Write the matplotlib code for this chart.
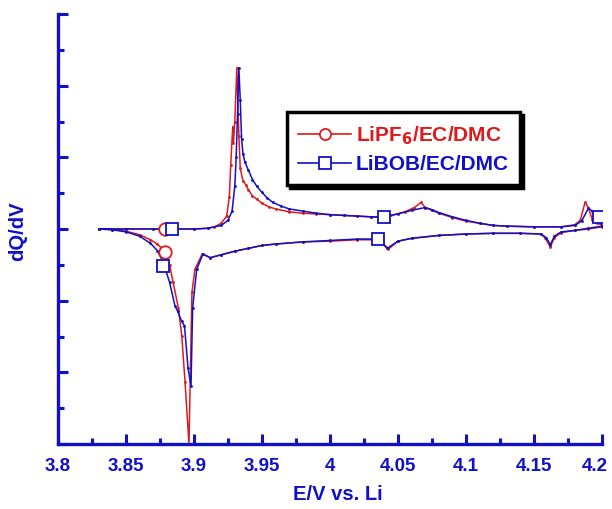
import matplotlib
matplotlib.use("Agg")
import matplotlib.pyplot as plt
from matplotlib.transforms import ScaledTranslation

# LiPF6/EC/DMC : charge branch then discharge branch (E in V, dQ/dV a.u.)
e_pf6 = [3.830, 3.850, 3.870, 3.880, 3.900, 3.910, 3.915, 3.920, 3.924, 3.926, 3.927, 3.9285,
         3.929, 3.930, 3.9315, 3.933, 3.934, 3.936, 3.938, 3.940, 3.943, 3.946, 3.950, 3.955,
         3.960, 3.970, 3.980, 3.990, 4.000, 4.010, 4.020, 4.030, 4.038, 4.045, 4.055, 4.062,
         4.067, 4.070, 4.075, 4.080, 4.090, 4.100, 4.110, 4.120, 4.130, 4.150, 4.170, 4.180,
         4.184, 4.1875, 4.190, 4.193, 4.196, 4.200,
         4.200, 4.190, 4.180, 4.170, 4.165, 4.162, 4.158, 4.155, 4.140, 4.120, 4.100, 4.080,
         4.060, 4.050, 4.043, 4.038, 4.035, 4.020, 4.000, 3.980, 3.960, 3.950, 3.940, 3.930,
         3.920, 3.912, 3.906, 3.9007, 3.8985, 3.8963, 3.8934, 3.891, 3.8885, 3.8846, 3.882,
         3.880, 3.877, 3.873, 3.868, 3.860, 3.850, 3.840, 3.830]
q_pf6 = [0.00, 0.00, 0.00, 0.00, 0.00, 0.01, 0.03, 0.08, 0.18, 0.45, 0.90, 1.43,
         1.20, 1.50, 2.25, 1.30, 0.85, 0.67, 0.62, 0.55, 0.46, 0.42, 0.36, 0.31,
         0.28, 0.24, 0.22, 0.21, 0.20, 0.19, 0.18, 0.17, 0.16, 0.19, 0.24, 0.30,
         0.37, 0.30, 0.26, 0.22, 0.16, 0.11, 0.08, 0.05, 0.04, 0.03, 0.03, 0.06,
         0.12, 0.37, 0.30, 0.12, 0.08, 0.06,
         0.03, 0.00, -0.02, -0.05, -0.12, -0.25, -0.12, -0.07, -0.06, -0.06, -0.07, -0.09,
         -0.13, -0.17, -0.28, -0.18, -0.15, -0.15, -0.17, -0.18, -0.21, -0.23, -0.27, -0.31,
         -0.36, -0.40, -0.35, -0.56, -0.88, -3.00, -2.13, -1.49, -1.10, -0.74, -0.50,
         -0.36, -0.28, -0.21, -0.15, -0.08, -0.03, -0.01, 0.00]

# LiBOB/EC/DMC
e_bob = [3.830, 3.850, 3.870, 3.880, 3.900, 3.910, 3.920, 3.925, 3.928, 3.930, 3.931, 3.932,
         3.933, 3.934, 3.935, 3.936, 3.9375, 3.940, 3.943, 3.946, 3.950, 3.954, 3.958, 3.964,
         3.970, 3.980, 3.990, 4.000, 4.010, 4.020, 4.030, 4.040, 4.050, 4.060, 4.070, 4.075,
         4.080, 4.090, 4.100, 4.110, 4.120, 4.130, 4.150, 4.170, 4.180, 4.185, 4.190, 4.193,
         4.196, 4.198,
         4.200, 4.190, 4.180, 4.170, 4.165, 4.162, 4.159, 4.155, 4.140, 4.120, 4.100, 4.080,
         4.060, 4.050, 4.042, 4.035, 4.020, 4.000, 3.980, 3.960, 3.950, 3.940, 3.930, 3.920,
         3.912, 3.9066, 3.902, 3.899, 3.8978, 3.8956, 3.893, 3.891, 3.888, 3.886, 3.882,
         3.877, 3.873, 3.868, 3.860, 3.850, 3.840, 3.830]
q_bob = [0.00, 0.00, 0.00, 0.00, 0.00, 0.01, 0.05, 0.12, 0.25, 0.60, 1.00, 1.60,
         2.25, 1.80, 1.25, 1.05, 0.93, 0.82, 0.69, 0.60, 0.51, 0.43, 0.37, 0.32,
         0.28, 0.25, 0.22, 0.20, 0.19, 0.18, 0.17, 0.17, 0.21, 0.26, 0.30, 0.27,
         0.23, 0.17, 0.12, 0.08, 0.05, 0.04, 0.03, 0.03, 0.05, 0.11, 0.29, 0.25,
         0.19, 0.17,
         0.04, 0.01, -0.02, -0.04, -0.10, -0.22, -0.12, -0.07, -0.06, -0.06, -0.07, -0.09,
         -0.13, -0.17, -0.27, -0.14, -0.14, -0.16, -0.18, -0.21, -0.23, -0.27, -0.31, -0.36,
         -0.40, -0.35, -0.56, -1.10, -2.19, -1.94, -1.35, -1.29, -1.15, -1.07, -0.74,
         -0.45, -0.30, -0.20, -0.10, -0.04, -0.01, 0.00]

# open symbols drawn on the curves
mk_pf6_e = [3.879, 3.879]
mk_pf6_q = [0.00, -0.32]
mk_bob_e = [3.884, 3.877, 4.040, 4.035, 4.198]
mk_bob_q = [0.00, -0.51, 0.17, -0.14, 0.17]

RED = "#e01a1a"
BLUE = "#1010c8"

plt.rcParams["font.family"] = ["Liberation Sans", "DejaVu Sans"]
plt.rcParams["font.weight"] = "bold"

fig = plt.figure(figsize=(6.12, 5.09), dpi=100)
ax = fig.add_axes([58 / 612, 1 - 444 / 509, 544 / 612, 430 / 509])

ax.plot(e_pf6, q_pf6, color=RED, lw=1.1, marker=".", ms=2, zorder=2)
ax.plot(e_bob, q_bob, color=BLUE, lw=1.1, marker=".", ms=2, zorder=3)
ax.plot(mk_pf6_e, mk_pf6_q, ls="none", marker="o", ms=9, mfc="white", mec=RED, mew=1.3, zorder=4)
ax.plot(mk_bob_e, mk_bob_q, ls="none", marker="s", ms=9, mfc="white", mec=BLUE, mew=1.3, zorder=5)

# legend proxies
h1, = ax.plot([], [], color=RED, lw=1.2, marker="o", ms=8, mfc="white", mec=RED, mew=1.3)
h2, = ax.plot([], [], color=BLUE, lw=1.2, marker="s", ms=8, mfc="white", mec=BLUE, mew=1.3)
leg = ax.legend([h1, h2], [r"LiPF$_\mathbf{6}$/EC/DMC", "LiBOB/EC/DMC"],
                loc="upper left", bbox_to_anchor=(0.421, 0.771), fontsize=15,
                handlelength=2.5, handletextpad=0.25, borderpad=0.55, labelspacing=0.4,
                borderaxespad=0, fancybox=False, shadow={"color": "black", "alpha": 1.0})
leg.get_frame().set_edgecolor("black")
leg.get_frame().set_linewidth(2.5)
leg.get_texts()[0].set_color(RED)
leg.get_texts()[1].set_color(BLUE)

ax.set_xlim(3.8, 4.2)
ax.set_ylim(-3, 3)
ax.set_xticks([3.8, 3.85, 3.9, 3.95, 4.0, 4.05, 4.1, 4.15, 4.2])
ax.set_xticklabels(["3.8", "3.85", "3.9", "3.95", "4", "4.05", "4.1", "4.15", "4.2"])
ax.set_xticks([3.825, 3.875, 3.925, 3.975, 4.025, 4.075, 4.125, 4.175], minor=True)
ax.set_yticks([-3, -2, -1, 0, 1, 2, 3])
ax.set_yticks([-2.5, -1.5, -0.5, 0.5, 1.5, 2.5], minor=True)
ax.set_yticklabels([])

for s in ["top", "right"]:
    ax.spines[s].set_visible(False)
for s in ["left", "bottom"]:
    ax.spines[s].set_color(BLUE)
    ax.spines[s].set_linewidth(2.4)

ax.tick_params(which="major", direction="in", length=7, width=2.2, color=BLUE)
ax.tick_params(which="minor", direction="in", length=4, width=2.2, color=BLUE)
ax.tick_params(axis="x", which="major", pad=10, labelsize=13.5, labelcolor=BLUE)

# keep the last tick label inside the canvas
last = ax.get_xticklabels()[-1]
last.set_transform(last.get_transform() + ScaledTranslation(-7 / 100, 0, fig.dpi_scale_trans))

ax.set_xlabel("E/V vs. Li", fontsize=14.5, color=BLUE, fontweight="bold")
ax.xaxis.set_label_coords(0.515, -0.095)
ax.set_ylabel("dQ/dV", fontsize=14.5, color=BLUE, fontweight="bold")
ax.yaxis.set_label_coords(-0.057, 0.495)

fig.savefig("out.png", dpi=100)
